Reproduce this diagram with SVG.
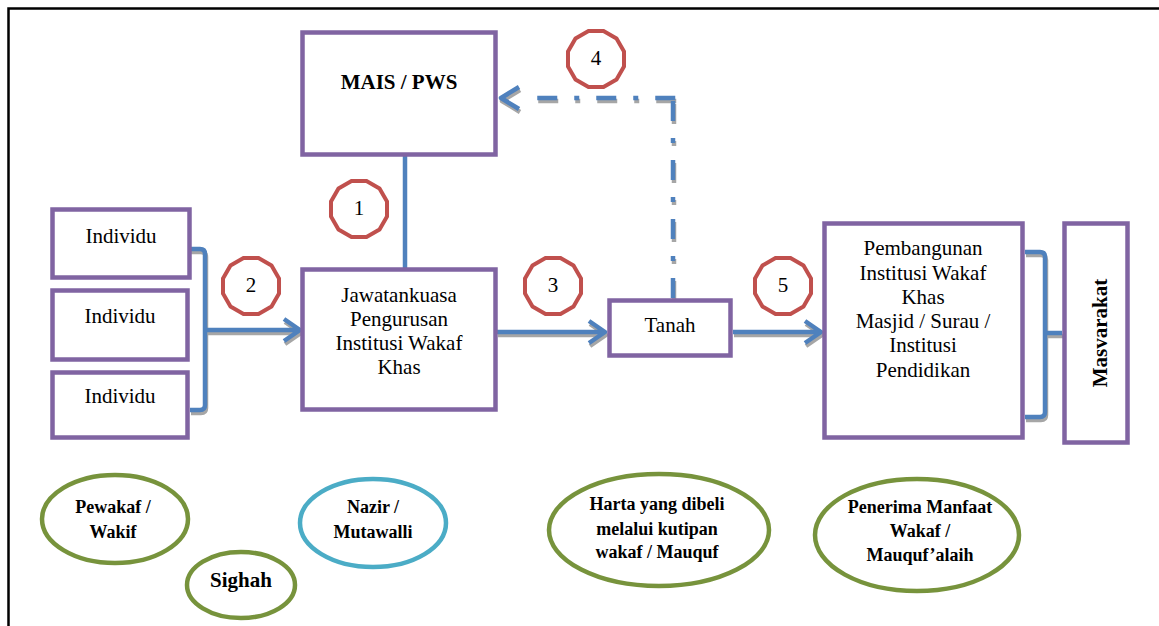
<svg xmlns="http://www.w3.org/2000/svg" xmlns:xlink="http://www.w3.org/1999/xlink" width="1159" height="626" viewBox="0 0 1159 626" font-family="'Liberation Serif', 'DejaVu Serif', serif">
<style>
.box{fill:#fff;stroke:#8064A2;stroke-width:4.5}
text{font-family:'Liberation Serif','DejaVu Serif',serif}
.t{font-size:21px;fill:#000;text-anchor:middle}
.b{font-weight:bold}
.s{font-size:18px}
.blue{fill:none;stroke:#4F81BD;stroke-width:4.5;stroke-linejoin:round}
.sh{fill:none;stroke:#A6A6A6;stroke-width:4.5;stroke-linejoin:round}
.dd{stroke-dasharray:20 17 5 17}
.num{fill:#fff;stroke:#C0504D;stroke-width:4}
.eg{fill:#fff;stroke:#77933C;stroke-width:4.5}
.eb{fill:#fff;stroke:#4BACC6;stroke-width:4.5}
</style>
<defs>
<polygon id="dodec" points="28.01,7.51 20.51,20.51 7.51,28.01 -7.51,28.01 -20.51,20.51 -28.01,7.51 -28.01,-7.51 -20.51,-20.51 -7.51,-28.01 7.51,-28.01 20.51,-20.51 28.01,-7.51"/>
</defs>
<rect width="1159" height="626" fill="#fff"/>
<path d="M8.5,626 V8.5 H1159" fill="none" stroke="#000" stroke-width="2.5"/>

<g id="connectors">
  <path class="blue" d="M405,155 V269"/>
  <g transform="translate(1,3)">
    <path class="sh" d="M190,249 H200 Q205,249 205,254 V405 Q205,410 200,410 H190 M205,330 H300 M284,319 L300,330 L284,341"/>
    <path class="sh" d="M497,332 H605 M589,321 L605,332 L589,343"/>
    <path class="sh" d="M733,332 H821 M805,321 L821,332 L805,343"/>
    <path class="sh dd" d="M673,298 V96"/>
    <path class="sh dd" d="M675.25,98 H528"/>
    <path class="sh" d="M519,87 L501,98 L519,109"/>
    <path class="sh" d="M1025,252 H1040 Q1045,252 1045,257 V412 Q1045,417 1040,417 H1025 M1045,333 H1062"/>
  </g>
  <path class="blue" d="M190,249 H200 Q205,249 205,254 V405 Q205,410 200,410 H190 M205,330 H300 M284,319 L300,330 L284,341"/>
  <path class="blue" d="M497,332 H605 M589,321 L605,332 L589,343"/>
  <path class="blue" d="M733,332 H821 M805,321 L821,332 L805,343"/>
  <path class="blue dd" d="M673,298 V96"/>
  <path class="blue dd" d="M675.25,98 H528"/>
  <path class="blue" d="M519,87 L501,98 L519,109"/>
  <path class="blue" d="M1025,252 H1040 Q1045,252 1045,257 V412 Q1045,417 1040,417 H1025 M1045,333 H1062"/>
</g>

<g id="mais">
  <rect class="box" x="302.5" y="32.5" width="193" height="122"/>
  <text class="t b" x="399" y="89">MAIS / PWS</text>
</g>
<g id="individu1">
  <rect class="box" x="52.5" y="209.5" width="137" height="68"/>
  <text class="t" x="121" y="243">Individu</text>
</g>
<g id="individu2">
  <rect class="box" x="52.5" y="290.5" width="135" height="69"/>
  <text class="t" x="120" y="323">Individu</text>
</g>
<g id="individu3">
  <rect class="box" x="52.5" y="372.5" width="135" height="65"/>
  <text class="t" x="120" y="403">Individu</text>
</g>
<g id="jawatankuasa">
  <rect class="box" x="302.5" y="269.5" width="193" height="140"/>
  <text class="t" x="399" y="302">Jawatankuasa</text>
  <text class="t" x="399" y="326">Pengurusan</text>
  <text class="t" x="399" y="350">Institusi Wakaf</text>
  <text class="t" x="399" y="374">Khas</text>
</g>
<g id="tanah">
  <rect class="box" x="609.5" y="300.5" width="121" height="55"/>
  <text class="t" x="670" y="332">Tanah</text>
</g>
<g id="pembangunan">
  <rect class="box" x="824.5" y="223.5" width="198" height="214"/>
  <text class="t" x="923" y="255">Pembangunan</text>
  <text class="t" x="923" y="280">Institusi Wakaf</text>
  <text class="t" x="923" y="304">Khas</text>
  <text class="t" x="923" y="328">Masjid / Surau /</text>
  <text class="t" x="923" y="352">Institusi</text>
  <text class="t" x="923" y="377">Pendidikan</text>
</g>
<g id="masyarakat">
  <rect class="box" x="1064.5" y="223.5" width="63" height="219"/>
  <text class="t b" x="1107" y="333" transform="rotate(-90 1107 333)">Masvarakat</text>
</g>

<g id="n1"><use xlink:href="#dodec" class="num" x="359" y="209"/><text class="t" x="359" y="215">1</text></g>
<g id="n2"><use xlink:href="#dodec" class="num" x="251" y="286"/><text class="t" x="251" y="292">2</text></g>
<g id="n3"><use xlink:href="#dodec" class="num" x="553" y="286"/><text class="t" x="553" y="292">3</text></g>
<g id="n4"><use xlink:href="#dodec" class="num" x="596" y="59"/><text class="t" x="596" y="65">4</text></g>
<g id="n5"><use xlink:href="#dodec" class="num" x="783" y="286"/><text class="t" x="783" y="292">5</text></g>

<g id="pewakaf">
  <ellipse class="eg" cx="115" cy="519" rx="73" ry="44"/>
  <text class="t b s" x="113" y="513">Pewakaf /</text>
  <text class="t b s" x="113" y="538">Wakif</text>
</g>
<g id="sighah">
  <ellipse class="eg" cx="241" cy="585" rx="54" ry="33"/>
  <text class="t b" x="241" y="587">Sighah</text>
</g>
<g id="nazir">
  <ellipse class="eb" cx="373" cy="523" rx="73" ry="44"/>
  <text class="t b s" x="373" y="513">Nazir /</text>
  <text class="t b s" x="373" y="538">Mutawalli</text>
</g>
<g id="harta">
  <ellipse class="eg" cx="659" cy="530" rx="110" ry="56"/>
  <text class="t b s" x="657" y="510">Harta yang dibeli</text>
  <text class="t b s" x="657" y="535">melalui kutipan</text>
  <text class="t b s" x="657" y="558">wakaf / Mauquf</text>
</g>
<g id="penerima">
  <ellipse class="eg" cx="917" cy="535" rx="102" ry="56"/>
  <text class="t b s" x="920" y="513">Penerima Manfaat</text>
  <text class="t b s" x="920" y="537">Wakaf /</text>
  <text class="t b s" x="920" y="561">Mauquf’alaih</text>
</g>
</svg>
